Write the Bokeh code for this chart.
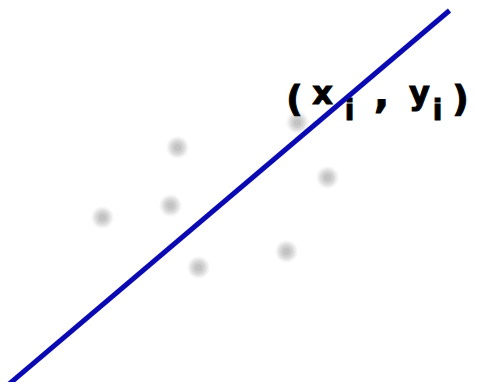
from bokeh.plotting import figure
from bokeh.models import Range1d, ColumnDataSource
from bokeh.core.properties import value
from bokeh.embed import file_html
from bokeh.resources import INLINE

# observed points (image pixel coordinates, y downward)
pts_x = [102, 177, 170, 198, 286, 297, 327]
pts_y = [217, 147, 205, 267, 251, 122, 177]

# fitted line end points
fit_x = [8, 449]
fit_y = [384, 10]

# label glyphs "(x_i , y_i)"
lab_text = ["(", "x", "i", ",", "y", "i", ")"]
lab_x = [294, 322, 349, 381, 419, 437, 460]
lab_y = [98, 92, 110, 91, 92, 110, 98]
lab_size = ["36px", "32px", "28px", "40px", "32px", "28px", "36px"]

p = figure(width=469, height=382, output_backend="svg", toolbar_location=None,
           x_range=Range1d(0, 469), y_range=Range1d(382, 0),
           min_border=0, border_fill_color="white", background_fill_color="white")
p.axis.visible = False
p.grid.visible = False
p.outline_line_color = None

# blurry grey points: layered translucent discs
for size, alpha in [(22, 0.10), (19, 0.14), (16, 0.2), (12, 0.28), (7, 0.3)]:
    p.scatter(pts_x, pts_y, size=size, fill_color="#a8a8a8", fill_alpha=alpha,
              line_color=None)

src = ColumnDataSource(dict(x=lab_x, y=lab_y, t=lab_text, s=lab_size))
p.text(x="x", y="y", text="t", source=src, text_font=value("DejaVu Sans"),
       text_font_style="bold", text_font_size="s", text_align="center",
       text_baseline="alphabetic", text_color="#000000",
       text_outline_color="#000000")

p.line(fit_x, fit_y, line_color="#0a0ab0", line_width=5)

open("out.html", "w").write(file_html(p, INLINE))
